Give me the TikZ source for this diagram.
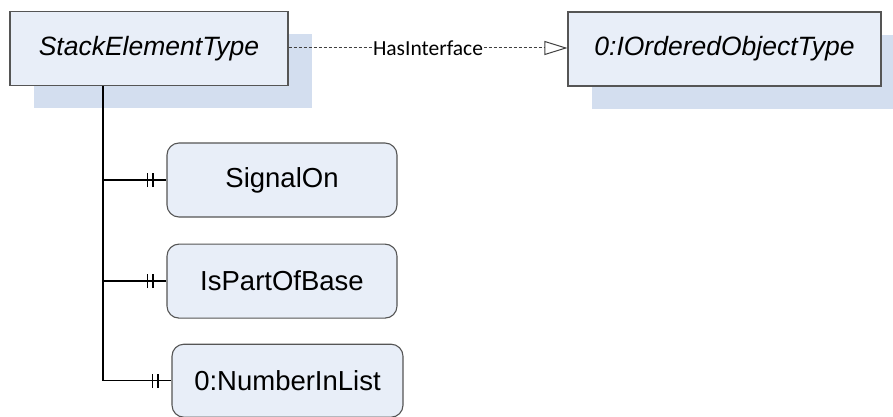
\documentclass[tikz,border=0pt]{standalone}
\usepackage{fontspec}
\setmainfont{Liberation Sans}
\newfontfamily\labelfont{Carlito}
\usetikzlibrary{arrows.meta, positioning, shadows, decorations.markings}

\definecolor{boxfill}{HTML}{E8EEF8}
\definecolor{boxline}{HTML}{555555}
\definecolor{shadowfill}{HTML}{D3DEEF}

\begin{document}
\begin{tikzpicture}[x=1pt,y=-1pt,node distance=26pt,
  type node/.style={rectangle,draw=boxline,line width=1.1pt,fill=boxfill,
    minimum height=74pt,font=\fontsize{26.5}{30}\selectfont\itshape,
    drop shadow={shadow xshift=24pt,shadow yshift=-23pt,fill=shadowfill,opacity=1}},
  prop node/.style={rectangle,rounded corners=12pt,draw=boxline,line width=1.1pt,
    fill=boxfill,minimum width=230pt,minimum height=74pt,
    font=\fontsize{27.5}{32}\selectfont},
  branch/.style={line width=1.5pt,postaction={decorate},decoration={markings,
    mark=at position -19pt with {\draw[line width=1.6pt] (0,-7pt) -- (0,7pt);},
    mark=at position -13.5pt with {\draw[line width=1.6pt] (0,-7pt) -- (0,7pt);}}},
  iface/.style={black!75,line width=1pt,dash pattern=on 3pt off 2pt,
    -{Triangle[open,length=23pt,width=14pt]}}]
  \useasboundingbox (0,0) rectangle (893,417);

  \node[type node,minimum width=278pt] (stack) at (149,48.5) {StackElementType};
  \node[type node,minimum width=313pt] (ordered) at (724.5,49) {0:IOrderedObjectType};

  \node[prop node] (signal) at (282,180) {SignalOn};
  \node[prop node] (base)[below=of signal] {IsPartOfBase};
  \node[prop node,minimum width=231pt,minimum height=73pt] (num)[below=25pt of base,xshift=5.5pt] {0:NumberInList};

  % interface realisation
  \draw[iface] (stack.east |- 0,48) -- node[fill=white,inner sep=1pt,text=black,
    font=\labelfont\fontsize{21.5}{26}\selectfont] {HasInterface} (ordered.west |- 0,48);

  % aggregated properties
  \coordinate (trunk) at ([xshift=-46pt]stack.south);
  \draw[line width=2pt] (trunk) -- (trunk |- num.west);
  \foreach \p in {signal,base,num}
    \draw[branch] (trunk |- \p.west) -- (\p.west);
\end{tikzpicture}
\end{document}
